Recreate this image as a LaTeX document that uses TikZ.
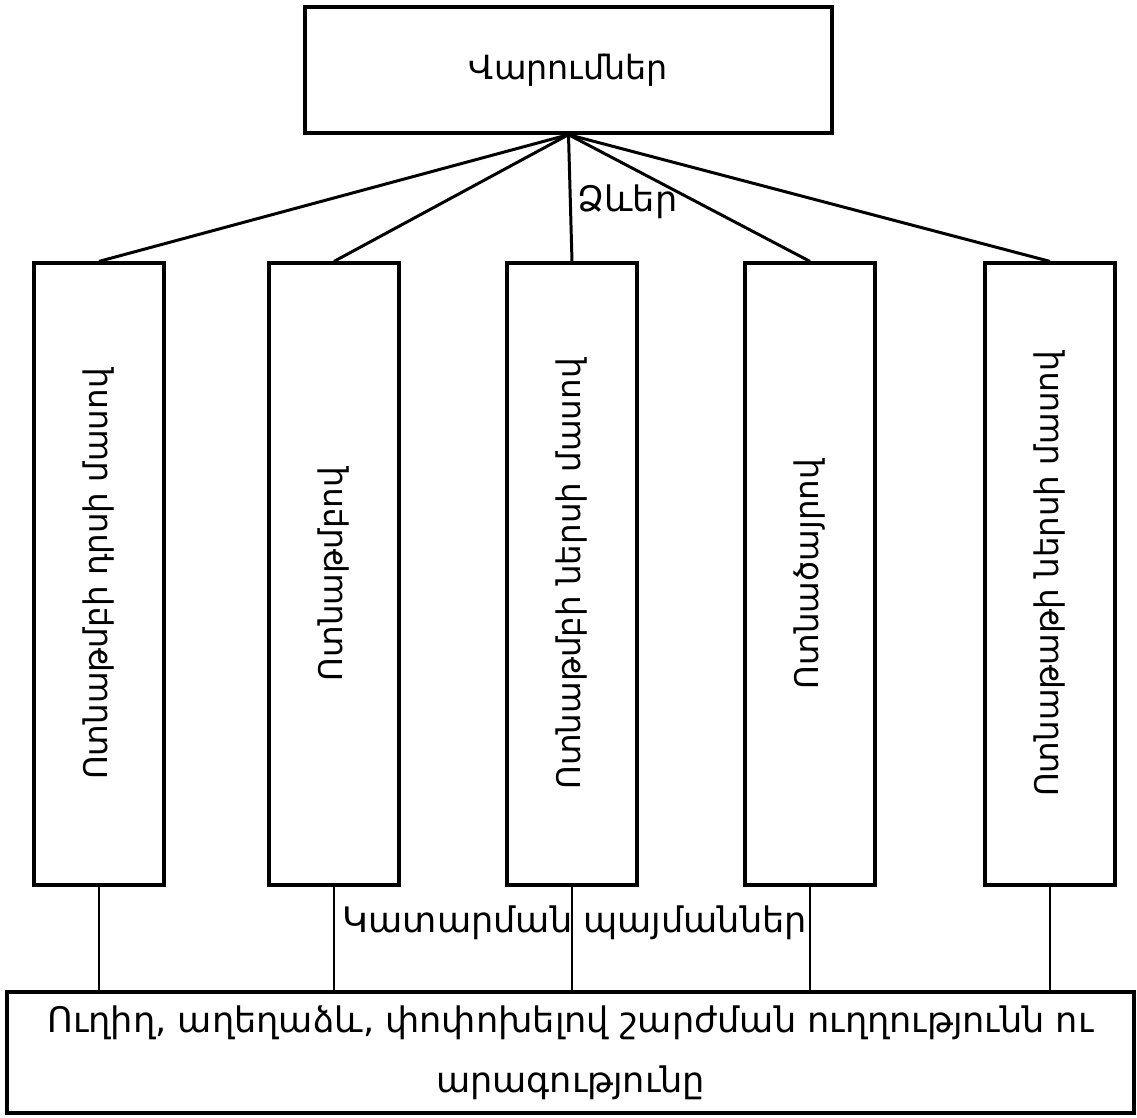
\documentclass[tikz,border=0pt]{standalone}
\usepackage{fontspec}
\usepackage{graphicx}
\setmainfont{DejaVu Sans}

\begin{document}
\begin{tikzpicture}[x=0.02cm,y=-0.02cm,
  topbox/.style={draw,line width=1.9pt,minimum width=10.54cm,minimum height=2.52cm,
                 inner sep=0pt,font=\fontsize{19}{24}\selectfont},
  formbox/.style={draw,line width=1.9pt,minimum width=2.6cm,minimum height=12.44cm,
                  inner sep=0pt,font=\fontsize{18.5}{24}\selectfont},
  basebox/.style={draw,line width=1.9pt,minimum width=22.54cm,minimum height=2.42cm,
                  inner sep=0pt,align=center,font=\fontsize{20}{34}\selectfont},
  tag/.style={inner sep=0pt,font=\fontsize{20}{24}\selectfont},
  fan/.style={line width=1.7pt},
  link/.style={line width=1.2pt}]
  \useasboundingbox (0,0) rectangle (1137,1117);

  % the kinds of dribbling and the way they are done
  \node[topbox] (drib) at (568.5,70) {Վարումներ};
  \foreach \i/\x/\t in {1/99/Ոտնաթմբի դրսի մասով,2/334/Ոտնաթմբով,
      3/572/Ոտնաթմբի ներսի մասով,4/810/Ոտնածայրով,5/1050/Ոտնաթաթի ներսի մասով}
    \node[formbox] (b\i) at (\x,574) {\rotatebox{90}{\t}};
  \node[basebox] (way) at (570.5,1052.5)
    {Ուղիղ, աղեղաձև, փոփոխելով շարժման ուղղությունն ու\\արագությունը};

  \foreach \i in {1,...,5} {
    \draw[fan] (drib.south)--(b\i.north);
    \draw[link] (b\i.south)--(b\i.south|-way.north);
  }
  \node[tag,anchor=west] (forms) at (577,202) {Ձևեր};
  \node[tag] (cond) at (575,923) {Կատարման պայմաններ};
\end{tikzpicture}
\end{document}
